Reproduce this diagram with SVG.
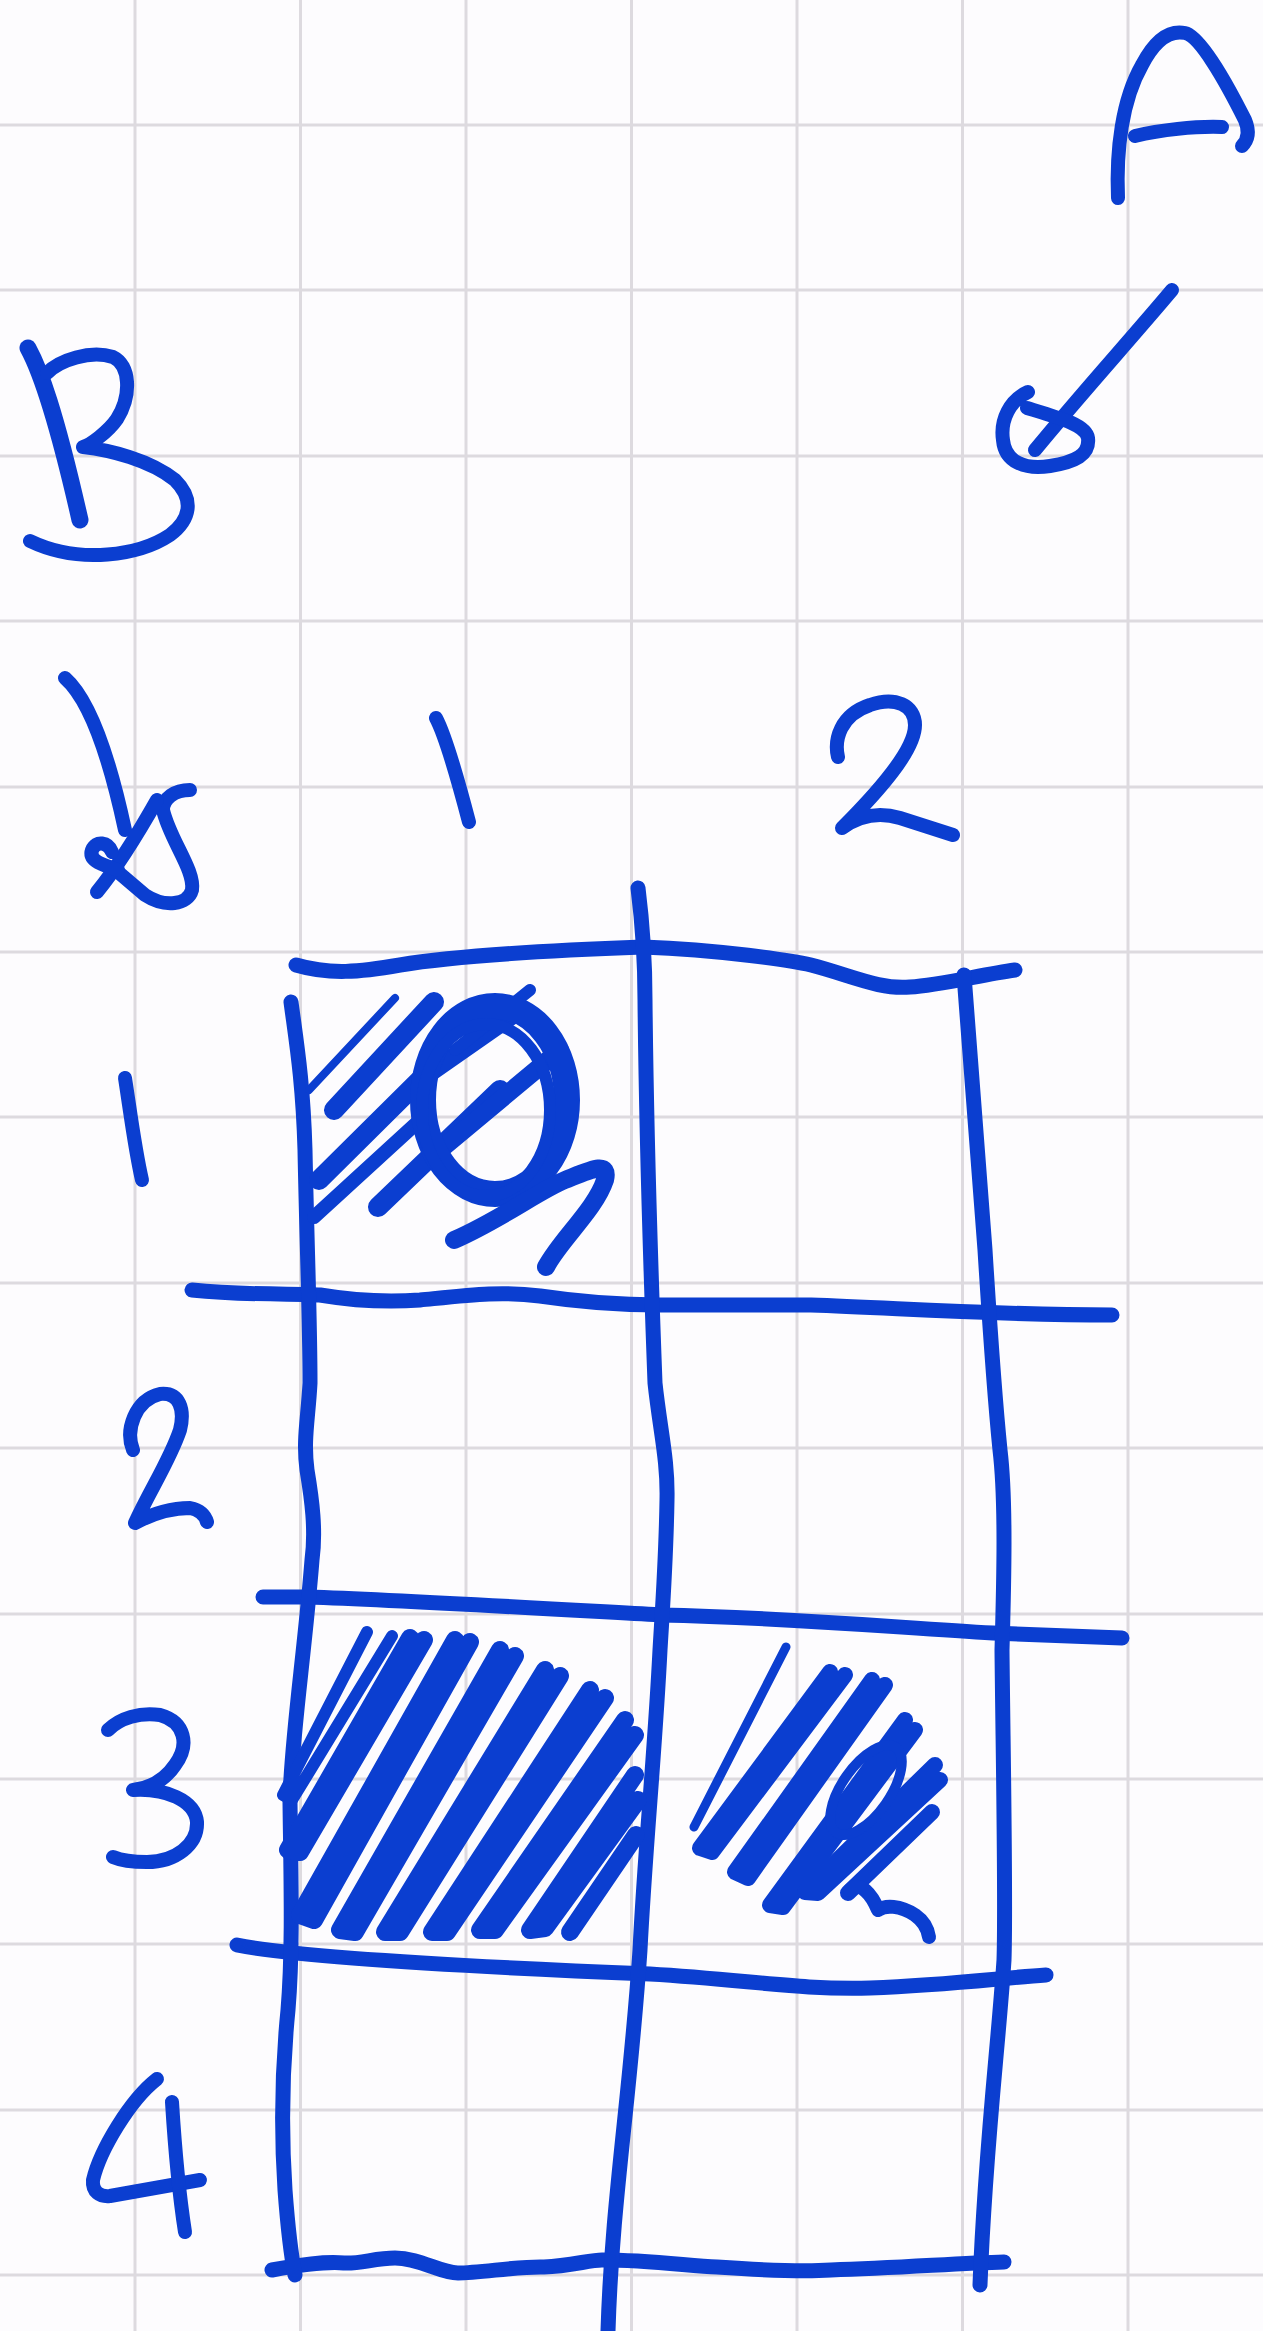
<svg xmlns="http://www.w3.org/2000/svg" width="1263" height="2331" viewBox="0 0 1263 2331">
<style>
.g{stroke:#dddadf;stroke-width:3;fill:none}
.p{stroke:#0b3ed0;fill:none;stroke-linecap:round;stroke-linejoin:round;stroke-width:14}
.t{stroke:#0b3ed0;fill:none;stroke-linecap:round;stroke-linejoin:round;stroke-width:15}
.h{stroke:#0b3ed0;fill:none;stroke-linecap:round;stroke-linejoin:round;stroke-width:18}
</style>
<rect width="1263" height="2331" fill="#fdfcfe"/>
<g id="paper-grid" class="g">
<path d="M135 0V2331M300.5 0V2331M466 0V2331M631.5 0V2331M797 0V2331M962.5 0V2331M1128 0V2331"/>
<path d="M0 125H1263M0 290H1263M0 456H1263M0 621H1263M0 787H1263M0 952H1263M0 1117H1263M0 1283H1263M0 1448H1263M0 1614H1263M0 1779H1263M0 1944H1263M0 2110H1263M0 2275H1263"/>
</g>
<g id="label-A" class="p">
<path d="M1118 198 C1116 150 1122 100 1142 65 C1155 40 1170 30 1185 33 C1200 36 1225 80 1245 120 C1250 132 1248 140 1242 146"/>
<path d="M1135 136 C1160 130 1195 126 1222 127"/>
</g>
<g id="connectors" class="p">
<g id="arrow-A">
<path d="M1172 290 C1130 340 1080 395 1035 450"/>
<path d="M1028 392 C1010 400 1000 420 1003 440 C1005 462 1025 470 1050 466 C1075 462 1090 455 1088 438 C1086 425 1060 418 1027 408"/>
</g>
<g id="arrow-B">
<path d="M65 678 C90 700 110 760 125 830"/>
<path d="M190 790 C175 790 163 798 163 810 C170 840 195 870 192 890 C188 905 165 908 145 895 L118 872"/>
<path d="M97 892 C115 870 140 830 157 800"/>
<path d="M118 870 C105 865 88 862 92 850 C96 840 108 842 112 852"/>
</g>
</g>
<g id="label-B" class="p">
<path d="M28 348 C40 370 55 410 80 520" stroke-width="17"/>
<path d="M47 373 C60 360 90 350 113 357 C130 365 132 395 117 419 C108 432 90 445 83 447 C110 450 150 460 175 480 C195 500 190 520 170 535 C140 555 80 565 30 541"/>
</g>
<g id="col-labels" class="p">
<path d="M436 718 C445 735 458 780 469 822"/>
<path d="M838 757 C834 740 840 715 870 705 C895 696 915 705 915 725 C915 750 880 790 842 828 C860 815 880 812 900 818 L953 835"/>
</g>
<g id="row-labels" class="p">
<path d="M125 1078 C130 1110 135 1150 142 1180"/>
<path d="M133 1450 C125 1430 135 1400 160 1394 C180 1392 185 1410 180 1430 C170 1460 150 1490 135 1523 C150 1515 170 1508 190 1508 C200 1510 205 1515 207 1522"/>
<path d="M108 1730 C120 1718 140 1712 160 1715 C185 1722 190 1745 175 1765 C165 1780 150 1788 133 1790 C165 1788 195 1800 197 1822 C198 1845 175 1862 147 1862 C130 1862 120 1860 113 1857"/>
<path d="M157 2079 C130 2100 100 2150 93 2180 C92 2192 100 2197 110 2196 L200 2180"/>
<path d="M172 2102 C175 2150 180 2200 185 2232"/>
</g>
<g id="table" class="t">
<path d="M296 965 C330 975 360 972 400 965 C460 955 560 950 643 947 C720 950 790 960 811 965 C850 975 880 990 910 987 C940 985 980 975 1015 970"/>
<path d="M192 1290 C250 1296 300 1293 320 1295 C350 1300 380 1303 420 1300 C470 1295 500 1291 540 1296 C580 1302 620 1305 660 1305 L811 1305 C900 1308 993 1315 1112 1315"/>
<path d="M263 1597 L307 1597 C400 1600 500 1606 660 1615 C800 1618 900 1628 993 1633 L1122 1638"/>
<path d="M237 1945 C300 1958 500 1968 650 1974 C750 1980 800 1990 870 1988 C950 1985 1000 1978 1046 1975"/>
<path d="M272 2270 C300 2265 325 2261 344 2263 C360 2264 375 2258 395 2258 C420 2258 440 2273 458 2273 C480 2273 520 2266 544 2267 C570 2266 590 2260 602 2260 C650 2260 690 2266 717 2267 C760 2270 800 2272 831 2270 C900 2268 960 2263 1004 2262"/>
<path d="M291 1002 C296 1040 303 1080 305 1150 C307 1250 310 1320 310 1383 C308 1420 303 1440 307 1470 C312 1500 316 1530 312 1560 C305 1650 290 1750 290 1803 C291 1880 293 1950 288 2010 C282 2070 281 2130 285 2190 C288 2230 292 2260 295 2275"/>
<path d="M638 888 C642 920 645 960 645 1000 C646 1100 650 1250 655 1383 C660 1430 668 1460 667 1500 C666 1560 663 1600 660 1650 C655 1750 645 1850 640 1950 C630 2100 612 2200 608 2331"/>
<path d="M964 975 C970 1050 978 1150 985 1250 C990 1330 995 1400 1000 1450 C1006 1500 1004 1580 1002 1650 C1003 1750 1006 1900 1004 1960 C998 2050 985 2150 980 2285"/>
</g>
<g id="cell-1-1" class="h">
<path d="M309 1090 L395 998" stroke-width="8"/>
<path d="M334 1110 L434 1002" stroke-width="20"/>
<path d="M319 1180 L440 1060" stroke-width="20"/>
<path d="M314 1217 L420 1120" stroke-width="14"/>
<path d="M378 1207 L500 1090" stroke-width="20"/>
<path d="M420 1080 L520 1010"/>
<path d="M440 1150 L560 1050"/>
<path d="M455 1050 L530 990" stroke-width="12"/>
<ellipse cx="495" cy="1100" rx="72" ry="94" stroke-width="26"/>
<ellipse cx="486" cy="1110" rx="64" ry="86" stroke-width="12"/>
<path d="M454 1240 C500 1220 540 1190 565 1180 C590 1170 610 1160 605 1180 C595 1210 560 1240 546 1267"/>
</g>
<g id="cell-3-1" class="h">
<path d="M367 1632 L283 1795 L292 1800 L392 1636" stroke-width="12"/>
<path d="M410 1638 L288 1850 L300 1852 L424 1640"/>
<path d="M455 1640 L300 1915 L314 1920 L470 1642"/>
<path d="M500 1650 L340 1930 L355 1932 L515 1656"/>
<path d="M545 1670 L385 1932 L400 1932 L560 1676"/>
<path d="M590 1690 L432 1932 L447 1932 L605 1698"/>
<path d="M625 1720 L480 1930 L495 1930 L635 1735"/>
<path d="M635 1775 L530 1930 L545 1928 L638 1800"/>
<path d="M636 1835 L570 1932"/>
</g>
<g id="cell-3-2" class="h">
<path d="M786 1647 L694 1827" stroke-width="9"/>
<path d="M830 1672 L700 1848 L712 1852 L845 1675" stroke-width="16"/>
<path d="M872 1680 L735 1872 L748 1878 L885 1685" stroke-width="16"/>
<path d="M905 1720 L770 1905 L783 1907 L915 1730" stroke-width="16"/>
<path d="M935 1765 L805 1892 L818 1893 L940 1780" stroke-width="16"/>
<path d="M932 1812 L848 1893" stroke-width="16"/>
<ellipse cx="866" cy="1790" rx="24" ry="52" transform="rotate(35 866 1790)" stroke-width="10"/>
<path d="M850 1890 C860 1880 872 1895 878 1910 C885 1905 900 1905 915 1915 C925 1922 928 1930 929 1937" stroke-width="14"/>
</g>
</svg>
